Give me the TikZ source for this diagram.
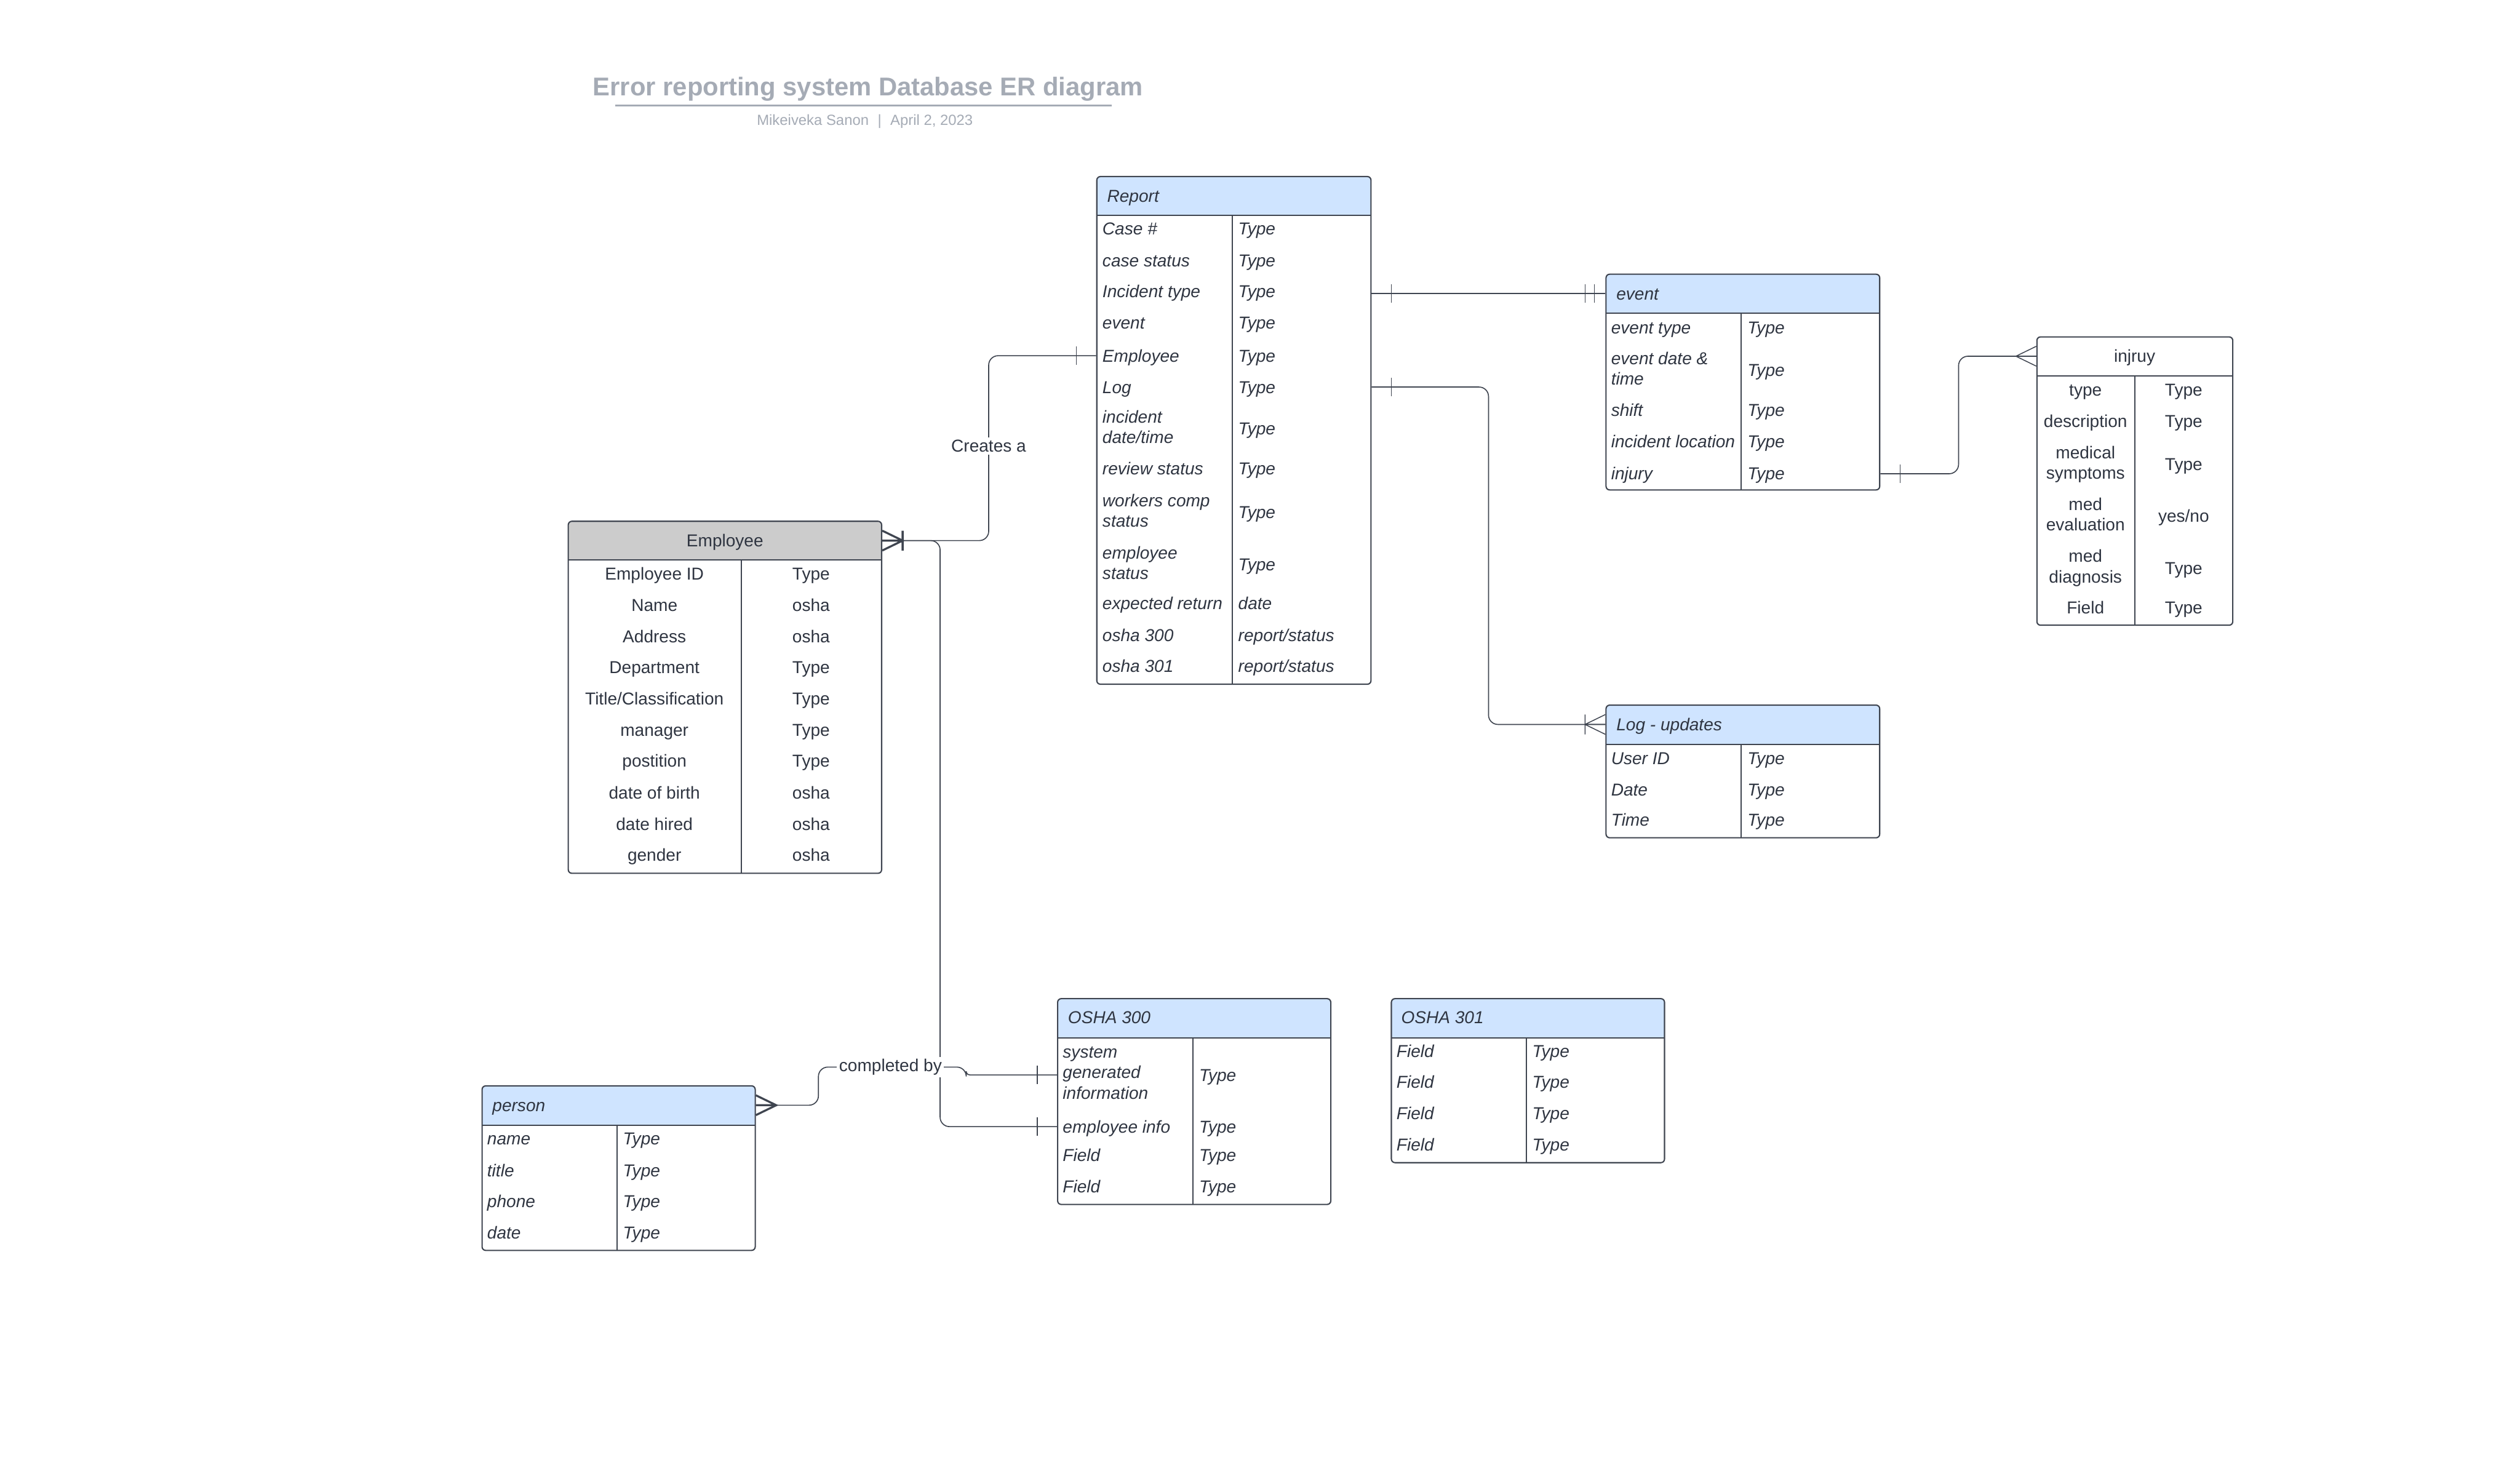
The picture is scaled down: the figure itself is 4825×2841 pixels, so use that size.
\documentclass[tikz,border=0pt]{standalone}
\usepackage{fontspec}
\setmainfont{Liberation Sans}
\usetikzlibrary{positioning, fit}

\definecolor{erline}{HTML}{3F4550}
\definecolor{ertext}{HTML}{2F3541}
\definecolor{erblue}{HTML}{CFE4FF}
\definecolor{ergrey}{HTML}{CCCCCC}
\definecolor{titlegrey}{HTML}{A5ABB5}

\newcommand{\rowstrut}{\rule[-2.2pt]{0pt}{11.1pt}}

\tikzset{
  tblbox/.style={draw=erline, line width=0.7pt, rounded corners=0.07cm, inner sep=0pt},
  tblline/.style={draw=erline, line width=0.7pt},
  fieldtxt/.style={anchor=west, inner sep=0pt, align=left, text=ertext,
    execute at begin node=\rowstrut, execute at end node=\rowstrut, font=\fontsize{9.4}{11.1}\selectfont\itshape},
  cfield/.style={anchor=center, inner sep=0pt, align=center, text=ertext,
    execute at begin node=\rowstrut, execute at end node=\rowstrut, font=\fontsize{9.4}{11.1}\selectfont},
  rel/.style={draw=erline, line width=0.55pt, rounded corners=0.18cm},
  rellabel/.style={fill=white, inner sep=1.2pt, text=ertext, font=\fontsize{9.4}{11.1}\selectfont},
  erm/.style={draw=erline},
  pics/erone/.style={code={\draw[erm] ({#1*38},-18) -- ({#1*38},18);}},
  pics/eronlyone/.style={code={\draw[erm] ({#1*21},-18) -- ({#1*21},18) ({#1*39},-18) -- ({#1*39},18);}},
  pics/ermany/.style={code={\draw[erm] (0,-19) -- ({#1*39},0) -- (0,19) (0,0) -- ({#1*39},0);}},
  pics/eronemany/.style={code={\draw[erm] (0,-19) -- ({#1*39},0) -- (0,19) (0,0) -- ({#1*39},0) ({#1*39},-19) -- ({#1*39},19);}},
}

% entity box: name, left, top, right, bottom, header bottom, divider, header colour
\newcommand{\erbox}[8]{%
  \begin{scope}
    \clip[rounded corners=0.07cm] (#2,#3) rectangle (#4,#5);
    \fill[#8] (#2,#3) rectangle (#4,#6);
  \end{scope}
  \draw[tblline] (#2,#6) -- (#4,#6) (#7,#6) -- (#7,#5);
  \node[tblbox, fit={(#2,#3) (#4,#5)}] (#1) {};
}

\begin{document}
\begin{tikzpicture}[x=0.01cm, y=-0.01cm, line width=0.5pt]
\path[use as bounding box, fill=white] (0,0) rectangle (4825,2841);

% title
\node[anchor=base, text=titlegrey, font=\fontsize{14}{16}\selectfont\bfseries] (title) at (1662,183) {Error reporting system Database ER diagram};
\draw[titlegrey, line width=1.1pt] (1178,202) -- (2128,202);
\node[anchor=base, text=titlegrey, font=\fontsize{8}{9.5}\selectfont] (byline) at (1656,240) {Mikeiveka Sanon\hspace{0.17cm}|\hspace{0.17cm}April 2, 2023};

% Report
\erbox{report}{2100}{338}{2625}{1310}{412}{2359}{erblue}
\node[fieldtxt] (report-title) at (2119,375) {Report};
\foreach \fname/\ftype/\ypos [count=\i] in {Case \#/Type/438, case status/Type/499, Incident type/Type/558, event/Type/618, Employee/Type/681, Log/Type/741, {incident\\date/time}/Type/821, review status/Type/897, {workers comp\\status}/Type/981, {employee\\status}/Type/1081, expected return/date/1155, osha 300/{report/status}/1216, osha 301/{report/status}/1275}
  {\node[fieldtxt] (report-f\i) at (2110,\ypos) {\fname};
   \node[fieldtxt] (report-t\i) at (2370,\ypos) {\ftype};}

% Employee
\erbox{employee}{1088}{998}{1688}{1672}{1072}{1419}{ergrey}
\node[cfield] (employee-title) at (1388,1035) {Employee};
\foreach \fname/\ftype/\ypos [count=\i] in {Employee ID/Type/1098, Name/osha/1159, Address/osha/1219, Department/Type/1278, {Title/Classification}/Type/1338, manager/Type/1398, postition/Type/1457, date of birth/osha/1518, date hired/osha/1578, gender/osha/1637}
  {\node[cfield] (employee-f\i) at (1253,\ypos) {\fname};
   \node[cfield] (employee-t\i) at (1553,\ypos) {\ftype};}

% event
\erbox{event}{3075}{525}{3599}{938}{600}{3334}{erblue}
\node[fieldtxt] (event-title) at (3094,562) {event};
\foreach \fname/\ftype/\ypos [count=\i] in {event type/Type/627, {event date \&\\time}/Type/709, shift/Type/785, incident location/Type/845, injury/Type/907}
  {\node[fieldtxt] (event-f\i) at (3084,\ypos) {\fname};
   \node[fieldtxt] (event-t\i) at (3345,\ypos) {\ftype};}

% injruy
\erbox{injury}{3900}{645}{4275}{1197}{720}{4087}{white}
\node[cfield] (injury-title) at (4087,682) {injruy};
\foreach \fname/\ftype/\ypos [count=\i] in {type/Type/746, description/Type/806, {medical\\symptoms}/Type/889, {med\\evaluation}/{yes/no}/988, {med\\diagnosis}/Type/1088, Field/Type/1163}
  {\node[cfield] (injury-f\i) at (3993,\ypos) {\fname};
   \node[cfield] (injury-t\i) at (4181,\ypos) {\ftype};}

% Log - updates
\erbox{logupd}{3075}{1350}{3599}{1604}{1425}{3334}{erblue}
\node[fieldtxt] (logupd-title) at (3094,1387) {Log - updates};
\foreach \fname/\ftype/\ypos [count=\i] in {User ID/Type/1452, Date/Type/1512, Time/Type/1570}
  {\node[fieldtxt] (logupd-f\i) at (3084,\ypos) {\fname};
   \node[fieldtxt] (logupd-t\i) at (3345,\ypos) {\ftype};}

% OSHA 300
\erbox{osha300}{2025}{1912}{2548}{2306}{1987}{2284}{erblue}
\node[fieldtxt] (osha300-title) at (2044,1948) {OSHA 300};
\foreach \fname/\ftype/\ypos [count=\i] in {{system\\generated\\information}/Type/2058, employee info/Type/2157, Field/Type/2212, Field/Type/2272}
  {\node[fieldtxt] (osha300-f\i) at (2034,\ypos) {\fname};
   \node[fieldtxt] (osha300-t\i) at (2295,\ypos) {\ftype};}

% OSHA 301
\erbox{osha301}{2664}{1912}{3187}{2226}{1987}{2922}{erblue}
\node[fieldtxt] (osha301-title) at (2682,1948) {OSHA 301};
\foreach \ypos [count=\i] in {2012, 2072, 2132, 2191}
  {\node[fieldtxt] (osha301-f\i) at (2673,\ypos) {Field};
   \node[fieldtxt] (osha301-t\i) at (2933,\ypos) {Type};}

% person
\erbox{person}{923}{2079}{1446}{2394}{2154}{1181}{erblue}
\node[fieldtxt] (person-title) at (942,2116) {person};
\foreach \fname/\ftype/\ypos [count=\i] in {name/Type/2180, title/Type/2241, phone/Type/2300, date/Type/2360}
  {\node[fieldtxt] (person-f\i) at (932,\ypos) {\fname};
   \node[fieldtxt] (person-t\i) at (1192,\ypos) {\ftype};}

% relationships
\draw[rel] (employee.east |- employee-title) -| (1893,681) -- (report.west |- report-f5);
\draw[rel] (employee.east |- employee-title) -| (1800,2157) -- (osha300.west |- osha300-f2);
\draw[rel] (person.east |- person-title) -| (1567,2043) -- (1850,2043) [rounded corners=0.07cm] |- (osha300.west |- osha300-f1);
\draw[rel] (report.east |- event-title) -- (event.west |- event-title);
\draw[rel] (report.east |- report-f6) -| (2850,1387) -- (logupd.west |- logupd-title);
\draw[rel] (event.east |- event-f5) -| (3750,682) -- (injury.west |- injury-title);

\pic[line width=1.1pt] at (employee.east |- employee-title) {eronemany=1};
\pic at (report.west |- report-f5) {erone=-1};
\pic at (osha300.west |- osha300-f2) {erone=-1};
\pic[line width=1.1pt] at (person.east |- person-title) {ermany=1};
\pic at (osha300.west |- osha300-f1) {erone=-1};
\pic at (report.east |- event-title) {erone=1};
\pic at (event.west |- event-title) {eronlyone=-1};
\pic at (report.east |- report-f6) {erone=1};
\pic at (logupd.west |- logupd-title) {eronemany=-1};
\pic at (event.east |- event-f5) {erone=1};
\pic at (injury.west |- injury-title) {ermany=-1};

\node[rellabel] (creates) at (1893,854) {Creates a};
\node[rellabel] (completed) at (1705,2043) {completed by};
\end{tikzpicture}
\end{document}
